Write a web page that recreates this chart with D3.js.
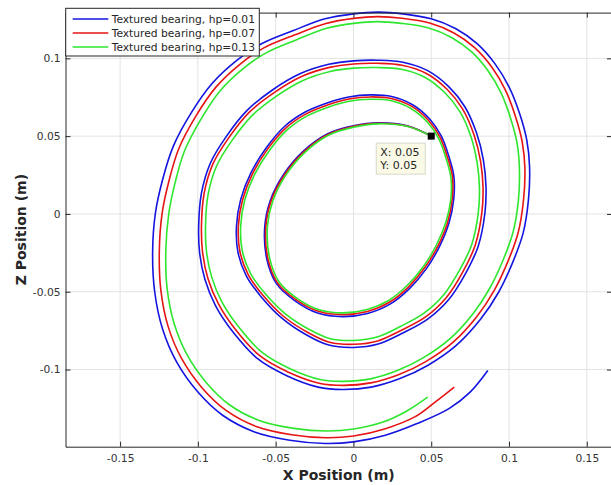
<!DOCTYPE html>
<html>
<head>
<meta charset="utf-8">
<script src="https://cdn.jsdelivr.net/npm/d3@7"></script>
<style>
  body { margin: 0; background: #fff; }
  svg { display: block; font-family: "DejaVu Sans", sans-serif; }
</style>
</head>
<body>
<script>
// series labels
const seriesNames = ["Textured bearing, hp=0.01", "Textured bearing, hp=0.07", "Textured bearing, hp=0.13"]
const seriesColors = ["#1414e0", "#e61414", "#2ee62e"]

// orbit points [x, z]
const hp001 = [[0.050,0.050],[0.035,0.0565],[0.016,0.0585],[0.000,0.0566],[-0.0165,0.0515],[-0.032,0.0405],[-0.045,0.0252],[-0.0535,0.0085],[-0.057,-0.008],[-0.0558,-0.0285],[-0.0495,-0.0448],[-0.038,-0.0555],[-0.023,-0.0637],[-0.007,-0.066],[0.009,-0.064],[0.0235,-0.058],[0.036,-0.048],[0.047,-0.035],[0.0555,-0.0205],[0.0615,-0.0055],[0.0645,0.01],[0.0645,0.0245],[0.061,0.038],[0.0565,0.05],[0.049,0.061],[0.038,0.0702],[0.0245,0.0755],[0.011,0.0765],
  [-0.003,0.0752],[-0.0165,0.0715],[-0.031,0.0655],[-0.044,0.0565],[-0.056,0.0425],[-0.066,0.0262],[-0.0725,0.0092],[-0.0752,-0.008],[-0.0742,-0.0249],[-0.0688,-0.0399],[-0.0595,-0.053],[-0.0462,-0.0668],[-0.0298,-0.078],[-0.0159,-0.0843],[0.000,-0.0858],[0.0159,-0.0836],[0.0318,-0.0765],[0.0477,-0.0676],[0.0614,-0.0548],[0.0722,-0.038],[0.0802,-0.0207],[0.0845,0.0006],[0.0852,0.0177],[0.0835,0.0348],[0.0792,0.0518],[0.0716,0.0689],[0.0614,0.0817],[0.0477,0.0921],[0.0318,0.0975],[0.0159,0.0988],[0.000,0.0984],
  [-0.0159,0.0962],[-0.0341,0.0902],[-0.0523,0.0795],[-0.0682,0.0667],[-0.0818,0.0497],[-0.092,0.0326],[-0.0977,0.0134],[-0.0995,-0.0079],[-0.0989,-0.0249],[-0.0955,-0.042],[-0.0886,-0.0591],[-0.0773,-0.0761],[-0.0614,-0.0932],[-0.0432,-0.1038],[-0.0227,-0.1113],[-0.0068,-0.1128],[0.0114,-0.1113],[0.0295,-0.106],[0.0477,-0.0974],[0.0659,-0.0847],[0.0818,-0.0676],[0.0932,-0.0505],[0.1023,-0.0313],[0.1091,-0.0122],[0.1125,0.0092],[0.1132,0.0305],[0.1114,0.0476],[0.1068,0.0646],[0.100,0.0817],[0.0909,0.0966],[0.0795,0.1094],[0.0659,0.119],[0.050,0.1254],[0.0318,0.1286],[0.0159,0.1297],[0.000,0.1286],
  [-0.0182,0.1254],[-0.0386,0.1179],[-0.0591,0.1094],[-0.075,0.0987],[-0.0909,0.0838],[-0.1045,0.0646],[-0.1159,0.0433],[-0.1227,0.022],[-0.1273,0.0006],[-0.1291,-0.0249],[-0.1277,-0.0505],[-0.1227,-0.074],[-0.1136,-0.0953],[-0.100,-0.1145],[-0.0841,-0.1294],[-0.0636,-0.1401],[-0.0409,-0.1454],[-0.0182,-0.1475],[0.000,-0.1465],[0.0205,-0.1422],[0.0409,-0.1347],[0.0614,-0.1251],[0.075,-0.1145],[0.0864,-0.1006]]

const hp007 = [[0.050,0.050],[0.035,0.0564],[0.016,0.0583],[0.000,0.0563],[-0.0164,0.0511],[-0.0317,0.0401],[-0.0445,0.0249],[-0.0529,0.0084],[-0.0563,-0.008],[-0.0551,-0.0282],[-0.0488,-0.0443],[-0.0374,-0.0547],[-0.0225,-0.0626],[-0.0068,-0.0647],[0.0089,-0.0627],[0.0231,-0.0568],[0.0353,-0.047],[0.046,-0.0343],[0.0545,-0.0202],[0.0605,-0.0055],[0.0635,0.0098],[0.0636,0.0241],[0.0601,0.0374],[0.0557,0.0492],[0.0483,0.060],[0.0375,0.0691],[0.0242,0.0742],[0.0109,0.0752],
  [-0.0029,0.0739],[-0.0162,0.0702],[-0.0304,0.0643],[-0.0432,0.0555],[-0.0551,0.0418],[-0.0649,0.0257],[-0.0713,0.009],[-0.074,-0.0079],[-0.0729,-0.0246],[-0.0675,-0.0393],[-0.0583,-0.0521],[-0.0452,-0.0656],[-0.029,-0.0764],[-0.0154,-0.0825],[0.0001,-0.0838],[0.0156,-0.0816],[0.0311,-0.0746],[0.0466,-0.066],[0.0599,-0.0535],[0.0704,-0.0371],[0.0782,-0.0203],[0.0825,0.0005],[0.0833,0.0172],[0.0817,0.0339],[0.0776,0.0506],[0.0702,0.0674],[0.0603,0.080],[0.0469,0.0903],[0.0313,0.0956],[0.0157,0.0968],[0.0001,0.0964],
  [-0.0155,0.0942],[-0.0334,0.0883],[-0.0512,0.0778],[-0.0669,0.0654],[-0.0803,0.0487],[-0.0904,0.032],[-0.096,0.0131],[-0.0977,-0.0078],[-0.097,-0.0245],[-0.0936,-0.0413],[-0.0867,-0.058],[-0.0756,-0.0746],[-0.060,-0.0913],[-0.0421,-0.1016],[-0.0221,-0.1088],[-0.0065,-0.1102],[0.0112,-0.1086],[0.0289,-0.1034],[0.0465,-0.0949],[0.0641,-0.0824],[0.0795,-0.0657],[0.0905,-0.0491],[0.0993,-0.0305],[0.1059,-0.0119],[0.1093,0.0088],[0.1102,0.0295],[0.1085,0.0462],[0.1041,0.0628],[0.0977,0.0796],[0.089,0.0943],[0.0779,0.1069],[0.0646,0.1163],[0.049,0.1227],[0.0312,0.1258],[0.0156,0.1268],[0.0001,0.1257],
  [-0.0177,0.1224],[-0.0376,0.1151],[-0.0576,0.1067],[-0.073,0.0962],[-0.0884,0.0815],[-0.1014,0.0627],[-0.1123,0.0419],[-0.1186,0.0212],[-0.123,0.0004],[-0.1248,-0.0242],[-0.1238,-0.0491],[-0.1192,-0.0721],[-0.1105,-0.0929],[-0.0974,-0.1117],[-0.0819,-0.1263],[-0.062,-0.1368],[-0.0398,-0.1419],[-0.0176,-0.1438],[0.0001,-0.1427],[0.020,-0.1382],[0.0397,-0.1303],[0.0523,-0.1211],[0.0648,-0.1113]]

const hp013 = [[0.050,0.050],[0.0349,0.0562],[0.0159,0.0579],[0.0001,0.0558],[-0.0161,0.0506],[-0.0312,0.0396],[-0.0438,0.0245],[-0.0519,0.0082],[-0.0553,-0.0079],[-0.054,-0.0278],[-0.0479,-0.0436],[-0.0367,-0.0539],[-0.0221,-0.0616],[-0.0066,-0.0636],[0.0088,-0.0614],[0.0226,-0.0556],[0.0345,-0.046],[0.0451,-0.0336],[0.0534,-0.0198],[0.0594,-0.0054],[0.0626,0.0095],[0.0626,0.0236],[0.0592,0.0367],[0.0549,0.0483],[0.0476,0.0589],[0.0369,0.0678],[0.0238,0.0729],[0.0107,0.0737],
  [-0.0027,0.0724],[-0.0158,0.0688],[-0.0297,0.063],[-0.0423,0.0543],[-0.0539,0.0409],[-0.0636,0.0252],[-0.0699,0.0088],[-0.0725,-0.0079],[-0.0714,-0.0241],[-0.066,-0.0385],[-0.0569,-0.051],[-0.044,-0.064],[-0.0281,-0.0744],[-0.0149,-0.0802],[0.0002,-0.0813],[0.0152,-0.0791],[0.0302,-0.0723],[0.0451,-0.0639],[0.0581,-0.0519],[0.0683,-0.036],[0.076,-0.0198],[0.0802,0.0003],[0.081,0.0166],[0.0795,0.0329],[0.0757,0.0492],[0.0685,0.0656],[0.0588,0.0779],[0.0458,0.0879],[0.0306,0.093],[0.0153,0.0941],[0.0002,0.0937],
  [-0.015,0.0916],[-0.0324,0.0858],[-0.0497,0.0756],[-0.0649,0.0635],[-0.078,0.0473],[-0.0879,0.031],[-0.0934,0.0127],[-0.0951,-0.0077],[-0.0945,-0.024],[-0.0912,-0.0403],[-0.0845,-0.0567],[-0.0736,-0.0729],[-0.0585,-0.0892],[-0.0411,-0.0993],[-0.0215,-0.1064],[-0.0063,-0.1076],[0.011,-0.106],[0.0282,-0.1007],[0.0453,-0.0922],[0.0623,-0.080],[0.0771,-0.0638],[0.0877,-0.0476],[0.0962,-0.0296],[0.1026,-0.0117],[0.106,0.0084],[0.1067,0.0285],[0.1053,0.0447],[0.1012,0.0608],[0.0951,0.0773],[0.0867,0.0917],[0.076,0.1041],[0.063,0.1134],[0.0479,0.1196],[0.0306,0.1225],[0.0154,0.1236],[0.0002,0.1225],
  [-0.0171,0.1193],[-0.0365,0.112],[-0.0559,0.1037],[-0.0709,0.0934],[-0.0858,0.079],[-0.0982,0.0606],[-0.1086,0.0404],[-0.1146,0.0203],[-0.1187,0.0003],[-0.1206,-0.0235],[-0.1198,-0.0477],[-0.1154,-0.070],[-0.1071,-0.0903],[-0.0944,-0.1086],[-0.0795,-0.1228],[-0.0601,-0.1329],[-0.0385,-0.1378],[-0.017,-0.1395],[0.0002,-0.1382],[0.0195,-0.1336],[0.034,-0.1268],[0.0477,-0.1177]]

const allSeries = [hp001, hp007, hp013]

// ticks
const xTicks = [-0.15, -0.1, -0.05, 0, 0.05, 0.1, 0.15]
const xTickLabels = ["-0.15", "-0.1", "-0.05", "0", "0.05", "0.1", "0.15"]
const yTicks = [-0.1, -0.05, 0, 0.05, 0.1]
const yTickLabels = ["-0.1", "-0.05", "0", "0.05", "0.1"]

// data tip
const tipPoint = [0.05, 0.05]
const tipLines = ["X: 0.05", "Y: 0.05"]

const width = 611
const height = 485
const mLeft = 65.5, mRight = 612, mTop = 12.6, mBottom = 446.7

const svg = d3.select("body").append("svg")
    .attr("width", width)
    .attr("height", height)

const x = d3.scaleLinear().domain([-0.1851, 0.1662]).range([mLeft, mRight])
const y = d3.scaleLinear().domain([-0.1496, 0.1294]).range([mBottom, mTop])

//Grid
const grid = svg.append("g")
grid.selectAll(".gx").data(xTicks).enter().append("line")
    .attr("x1", d => x(d)).attr("x2", d => x(d))
    .attr("y1", mTop).attr("y2", mBottom)
    .attr("stroke", "#e3e3e3").attr("stroke-width", 1)
grid.selectAll(".gy").data(yTicks).enter().append("line")
    .attr("x1", mLeft).attr("x2", mRight)
    .attr("y1", d => y(d)).attr("y2", d => y(d))
    .attr("stroke", "#e3e3e3").attr("stroke-width", 1)

//Lines (smoothed through the read points)
const line = d3.line()
    .x(d => x(d[0])).y(d => y(d[1]))
    .curve(d3.curveCatmullRom.alpha(0.5))
svg.append("g").selectAll("path")
    .data(allSeries)
    .enter().append("path")
        .attr("d", line)
        .attr("fill", "none")
        .attr("stroke", (d, i) => seriesColors[i])
        .attr("stroke-width", 1.6)
        .attr("stroke-linejoin", "round")

//Axes (ticks pointing inward, box on)
const fmtX = d => xTickLabels[xTicks.indexOf(d)]
const fmtY = d => yTickLabels[yTicks.indexOf(d)]

const axB = svg.append("g").attr("transform", `translate(0,${mBottom})`)
    .call(d3.axisBottom(x).tickValues(xTicks).tickFormat(fmtX).tickSizeInner(-5).tickSizeOuter(0).tickPadding(8))
const axT = svg.append("g").attr("transform", `translate(0,${mTop})`)
    .call(d3.axisTop(x).tickValues(xTicks).tickFormat("").tickSizeInner(-5).tickSizeOuter(0))
const axL = svg.append("g").attr("transform", `translate(${mLeft},0)`)
    .call(d3.axisLeft(y).tickValues(yTicks).tickFormat(fmtY).tickSizeInner(-5).tickSizeOuter(0).tickPadding(5))
const axR = svg.append("g").attr("transform", `translate(${mRight},0)`)
    .call(d3.axisRight(y).tickValues(yTicks).tickFormat("").tickSizeInner(-5).tickSizeOuter(0))

for (const ax of [axB, axT, axL, axR]) {
    ax.select(".domain").attr("stroke", "#262626").attr("stroke-width", 1)
    ax.selectAll(".tick line").attr("stroke", "#262626")
    ax.selectAll(".tick text")
        .attr("fill", "#333")
        .style("font-family", "DejaVu Sans")
        .style("font-size", "10.7px")
}

//Axis labels
svg.append("text")
    .attr("x", (mLeft + mRight) / 2).attr("y", 480)
    .attr("text-anchor", "middle")
    .style("font-weight", "bold").style("font-size", "14px")
    .attr("fill", "#262626")
    .text("X Position (m)")
svg.append("text")
    .attr("transform", `translate(26,${(mTop + mBottom) / 2}) rotate(-90)`)
    .attr("text-anchor", "middle")
    .style("font-weight", "bold").style("font-size", "14px")
    .attr("fill", "#262626")
    .text("Z Position (m)")

//Data tip
svg.append("rect")
    .attr("x", x(tipPoint[0]) - 3.5).attr("y", y(tipPoint[1]) - 3.5)
    .attr("width", 7).attr("height", 7)
    .attr("fill", "#000")
const tip = svg.append("g").attr("transform", `translate(${x(tipPoint[0]) - 55},${y(tipPoint[1]) + 7})`)
tip.append("rect")
    .attr("width", 49).attr("height", 31)
    .attr("fill", "#fafae6").attr("stroke", "#d8d8c8").attr("stroke-width", 1)
tip.selectAll("text").data(tipLines).enter().append("text")
    .attr("x", 4).attr("y", (d, i) => 13 + i * 13)
    .style("font-size", "11px").attr("fill", "#262626")
    .text(d => d)

//Legend
const legend = svg.append("g").attr("transform", "translate(65.7,8.3)")
legend.append("rect")
    .attr("width", 193.6).attr("height", 47.7)
    .attr("fill", "#fff").attr("stroke", "#262626").attr("stroke-width", 1)
const items = legend.selectAll(".item").data(seriesNames).enter().append("g")
    .attr("transform", (d, i) => `translate(0,${10.7 + i * 14})`)
items.append("line")
    .attr("x1", 7).attr("x2", 42.6)
    .attr("stroke", (d, i) => seriesColors[i]).attr("stroke-width", 1.6)
items.append("text")
    .attr("x", 46).attr("dy", "0.35em")
    .style("font-size", "10.7px").attr("fill", "#262626")
    .text(d => d)
</script>
</body>
</html>
